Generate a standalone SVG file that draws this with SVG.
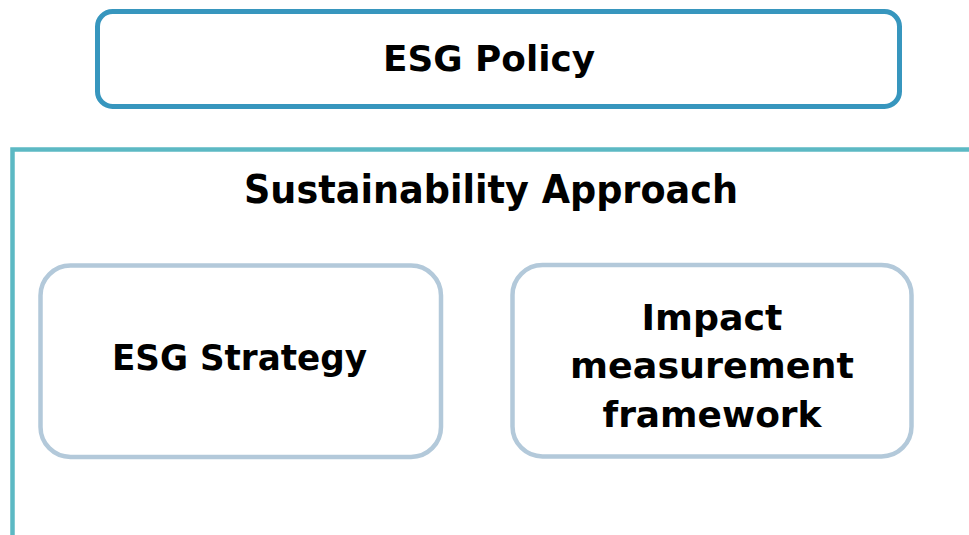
<svg xmlns="http://www.w3.org/2000/svg" width="969" height="535" viewBox="0 0 969 535">
  <style>
    .label { font-family: "DejaVu Sans", "Liberation Sans", sans-serif; font-weight: bold; fill: #000; }
    .policy-box { fill: #fff; stroke: #3796BE; stroke-width: 5; }
    .frame { fill: none; stroke: #5CB9C4; stroke-width: 4.5; }
    .item-box { fill: #fff; stroke: #B3C9DA; stroke-width: 4.5; }
  </style>
  <rect width="969" height="535" fill="#fff"/>

  <!-- Top-level policy -->
  <g id="esg-policy">
    <rect class="policy-box" x="97.5" y="11.5" width="802" height="95" rx="15"/>
    <text class="label" x="383" y="71" font-size="35" textLength="212" lengthAdjust="spacingAndGlyphs">ESG Policy</text>
  </g>

  <!-- Open frame grouping the approach components -->
  <g id="sustainability-approach">
    <path class="frame" d="M12.5,535 V149.5 H969"/>
    <text class="label" x="244" y="203" font-size="39" textLength="494" lengthAdjust="spacingAndGlyphs">Sustainability Approach</text>
  </g>

  <g id="esg-strategy">
    <rect class="item-box" x="40.5" y="265.5" width="400.5" height="191.5" rx="30"/>
    <text class="label" x="112" y="370" font-size="35" textLength="255" lengthAdjust="spacingAndGlyphs">ESG Strategy</text>
  </g>

  <g id="impact-measurement-framework">
    <rect class="item-box" x="512.5" y="265" width="399" height="191.5" rx="30"/>
    <text class="label" x="712" y="330" font-size="35" text-anchor="middle" textLength="141" lengthAdjust="spacingAndGlyphs">Impact</text>
    <text class="label" x="712" y="378" font-size="35" text-anchor="middle" textLength="284" lengthAdjust="spacingAndGlyphs">measurement</text>
    <text class="label" x="712" y="427" font-size="35" text-anchor="middle" textLength="219" lengthAdjust="spacingAndGlyphs">framework</text>
  </g>
</svg>
